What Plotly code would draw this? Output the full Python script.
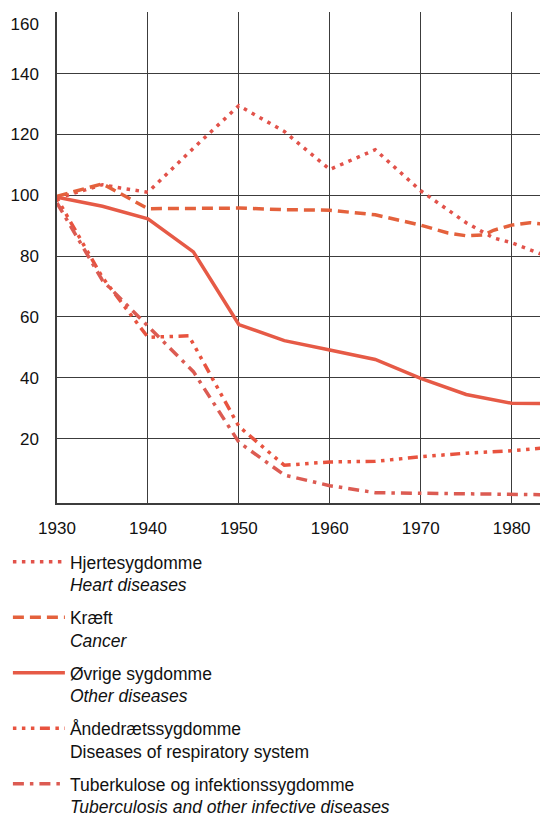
import plotly.graph_objects as go

# ---- data (index, approx.) ----
heart_years = [1930, 1935, 1937, 1940, 1945, 1950, 1955, 1960, 1965, 1970, 1975, 1978, 1980, 1984]
heart_vals  = [99, 103.5, 102.4, 101, 115.5, 129.5, 121, 108.5, 115, 101.5, 91, 86, 84.4, 79.8]

cancer_years = [1930, 1935, 1940, 1945, 1950, 1955, 1960, 1965, 1970, 1973, 1975, 1977, 1978, 1980, 1982, 1984]
cancer_vals  = [99.7, 103.8, 95.6, 95.7, 95.8, 95.3, 95.1, 93.6, 90.2, 87.6, 86.7, 87.0, 88.5, 90.2, 91.0, 90.4]

other_years = [1930, 1935, 1940, 1945, 1950, 1955, 1960, 1965, 1970, 1975, 1980, 1984]
other_vals  = [99.4, 96.4, 92.3, 81.4, 57.5, 52.2, 49.1, 46.0, 39.8, 34.5, 31.6, 31.5]

resp_years = [1930, 1935, 1940, 1944.5, 1950, 1955, 1960, 1965, 1970, 1975, 1980, 1984]
resp_vals  = [99, 73, 53.3, 53.8, 24, 11.2, 12.3, 12.5, 14, 15.2, 16, 17]

tb_years = [1930, 1935, 1940, 1945, 1950, 1955, 1960, 1965, 1970, 1975, 1980, 1984]
tb_vals  = [97.5, 72, 57, 42, 18.8, 8, 4.5, 2.2, 2.0, 1.9, 1.7, 1.5]

x_ticks = [1930, 1940, 1950, 1960, 1970, 1980]
y_ticks = [20, 40, 60, 80, 100, 120, 140, 160]
# the top label sits a little below its grid line in the original
y_ticktext = ["20", "40", "60", "80", "100", "120", "140", "<br>160"]

names = [
    "Hjertesygdomme<br><i>Heart diseases</i>",
    "Kræft<br><i>Cancer</i>",
    "Øvrige sygdomme<br><i>Other diseases</i>",
    "Åndedrætssygdomme<br>Diseases of respiratory system",
    "Tuberkulose og infektionssygdomme<br><i>Tuberculosis and other infective diseases</i>",
]

series = [
    (heart_years, heart_vals, "#e2524a", "3.5px,5.5px"),
    (cancer_years, cancer_vals, "#e4613c", "11px,6px"),
    (other_years, other_vals, "#e65a46", "solid"),
    (resp_years, resp_vals, "#e8533f", "3.5px,5.5px,3.5px,5.5px,3.5px,5.5px,10px,5.5px"),
    (tb_years, tb_vals, "#dc5b52", "11px,6px,3.5px,6px"),
]

fig = go.Figure()
for (xs, ys, col, dash), nm in zip(series, names):
    fig.add_trace(go.Scatter(
        x=xs, y=ys, mode="lines", name=nm,
        line=dict(color=col, width=3.5, dash=dash),
        legendgroup=nm,
    ))

font_fam = "Liberation Sans, Arial, Helvetica, sans-serif"
grid_col = "#3c3c3c"

# the page body keeps its default 8px margin, so the figure is sized to fill the rest
fig.update_layout(
    width=540, height=810,
    margin=dict(l=49, r=0, t=4, b=315, autoexpand=False),
    paper_bgcolor="white", plot_bgcolor="white",
    font=dict(family=font_fam, size=17, color="#111"),
    showlegend=True,
    legend=dict(
        x=-0.100, xanchor="left", y=-0.0835, yanchor="top",
        orientation="v", valign="top",
        font=dict(family=font_fam, size=17.5, color="#111"),
        itemwidth=52, tracegroupgap=7,
        bgcolor="rgba(0,0,0,0)",
    ),
    xaxis=dict(
        range=[1930, 1984], tickvals=x_ticks, ticktext=[str(v) for v in x_ticks],
        showgrid=True, gridcolor=grid_col, gridwidth=1.3,
        showline=True, linecolor=grid_col, linewidth=1.5,
        zeroline=False, ticks="", ticklabelstandoff=9,
        tickfont=dict(size=17),
    ),
    yaxis=dict(
        range=[-1.2, 160.3], tickvals=y_ticks, ticktext=y_ticktext,
        showgrid=True, gridcolor=grid_col, gridwidth=1.3,
        showline=True, linecolor=grid_col, linewidth=1.5,
        zeroline=False, ticks="", ticklabelstandoff=13,
        ticklabeloverflow="allow",
        tickfont=dict(size=17),
    ),
)

fig.write_html("out.html")
